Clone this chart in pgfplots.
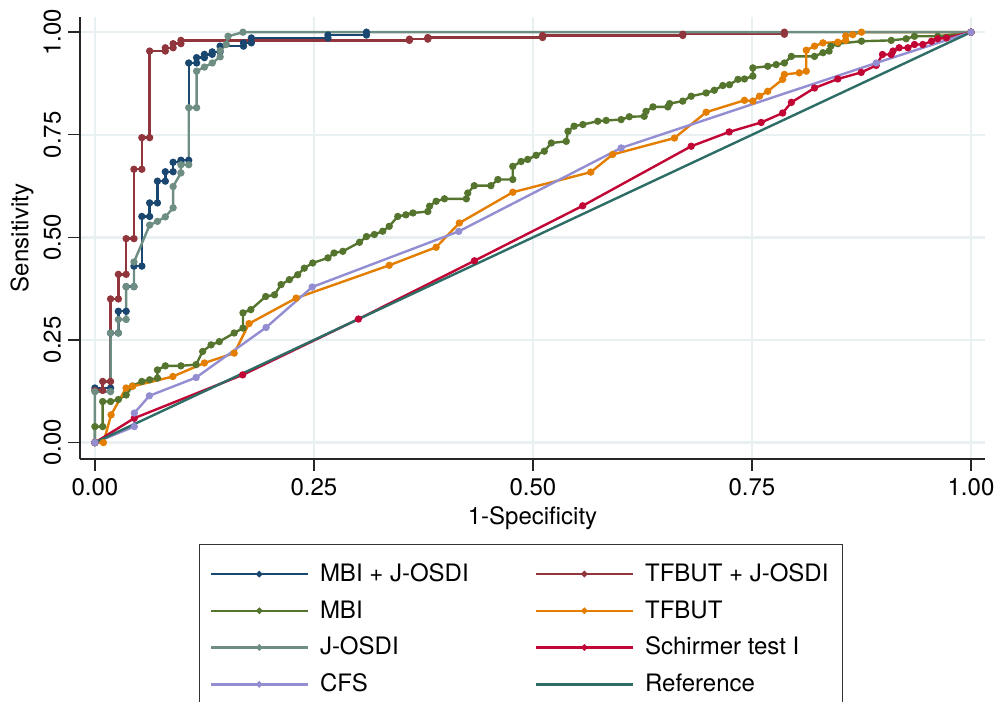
\documentclass[border=0pt]{standalone}
\usepackage{fontspec}
\setmainfont{TeX Gyre Heros}
\usepackage{pgfplots}
\pgfplotsset{compat=1.18}

\definecolor{cNavy}{RGB}{26,71,111}
\definecolor{cMaroon}{RGB}{144,53,59}
\definecolor{cGreen}{RGB}{85,117,47}
\definecolor{cOrange}{RGB}{227,126,0}
\definecolor{cTeal}{RGB}{110,142,132}
\definecolor{cCran}{RGB}{193,5,52}
\definecolor{cLav}{RGB}{147,141,210}
\definecolor{cRef}{RGB}{45,109,102}
\definecolor{gridc}{RGB}{232,240,242}

\begin{document}
\begin{tikzpicture}
\begin{axis}[
  scale only axis, width=452.5pt, height=221pt,
  xmin=-0.017, xmax=1.016, ymin=-0.04, ymax=1.037,
  axis x line*=bottom, axis y line*=left,
  axis line style={black!85, line width=0.7pt},
  xtick={0,0.25,0.5,0.75,1}, ytick={0,0.25,0.5,0.75,1},
  tick align=outside, major tick length=6pt,
  tick style={black!85, line width=0.7pt},
  grid=major, major grid style={gridc, line width=1.2pt},
  /pgf/number format/fixed, /pgf/number format/fixed zerofill,
  /pgf/number format/precision=2,
  /pgf/number format/assume math mode=true,
  font=\fontsize{12}{14}\selectfont,
  yticklabel style={rotate=90, anchor=south},
  xlabel={1-Specificity}, ylabel={Sensitivity},
  x label style={at={(axis description cs:0.5,-0.1335)}, anchor=center},
  y label style={at={(axis description cs:-0.064,0.5)}, anchor=center},
  legend columns=2, legend cell align=left,
  legend style={at={(0.1315,-0.1923)}, anchor=north west, draw=black!80,
    line width=0.6pt, font=\fontsize{12}{14}\selectfont,
    inner xsep=5pt, inner ysep=7.5pt, row sep=4pt,
    /tikz/every even column/.append style={column sep=31pt},
    /tikz/every odd column/.append style={column sep=3.5pt}},
  legend image code/.code={\draw[mark repeat=2,mark phase=2,#1,mark size=0.9pt]
    plot coordinates {(0pt,0pt) (24.25pt,0pt) (48.5pt,0pt)};},
  every axis plot/.append style={line width=1.2pt, mark size=1.2pt},
]
% MBI + J-OSDI
\addplot[cNavy, mark=*] coordinates {(0,0) (0,0.133) (0.0179,0.133) (0.0179,0.267) (0.0268,0.267) (0.0268,0.32) (0.0357,0.32) (0.0357,0.38) (0.0446,0.38) (0.0446,0.43) (0.0536,0.43) (0.0536,0.551) (0.0625,0.551) (0.0625,0.584) (0.0714,0.584) (0.0714,0.637) (0.0804,0.637) (0.0804,0.66) (0.0893,0.66) (0.0893,0.683) (0.0982,0.683) (0.0982,0.688) (0.1071,0.688) (0.1071,0.925) (0.1161,0.925) (0.1161,0.938) (0.125,0.938) (0.125,0.946) (0.1339,0.946) (0.1339,0.952) (0.1429,0.952) (0.1429,0.966) (0.1696,0.966) (0.1696,0.974) (0.1786,0.974) (0.1786,0.986) (0.266,0.986) (0.266,0.993) (0.31,0.993) (0.31,1) (1,1)};
\addlegendentry{MBI + J-OSDI}
% TFBUT + J-OSDI
\addplot[cMaroon, mark=*] coordinates {(0,0) (0,0.127) (0.0089,0.127) (0.0089,0.149) (0.0179,0.149) (0.0179,0.35) (0.0268,0.35) (0.0268,0.41) (0.0357,0.41) (0.0357,0.497) (0.0446,0.497) (0.0446,0.666) (0.0536,0.666) (0.0536,0.743) (0.0625,0.743) (0.0625,0.954) (0.0804,0.954) (0.0804,0.962) (0.0893,0.962) (0.0893,0.972) (0.0982,0.972) (0.0982,0.98) (0.359,0.98) (0.359,0.983) (0.38,0.983) (0.38,0.987) (0.511,0.987) (0.511,0.992) (0.671,0.992) (0.671,0.995) (0.787,0.995) (0.787,1) (1,1)};
\addlegendentry{TFBUT + J-OSDI}
% MBI
\addplot[cGreen, mark=*] coordinates {(0,0) (0,0.039) (0.0089,0.039) (0.0089,0.10) (0.0179,0.10) (0.0268,0.105) (0.0357,0.116) (0.043,0.138) (0.0536,0.149) (0.0625,0.153) (0.0714,0.157) (0.0714,0.177) (0.0804,0.187) (0.0982,0.187) (0.1155,0.19) (0.123,0.222) (0.1326,0.238) (0.142,0.246) (0.159,0.267) (0.169,0.279) (0.169,0.316) (0.178,0.324) (0.195,0.356) (0.205,0.36) (0.2125,0.385) (0.222,0.397) (0.2315,0.409) (0.239,0.425) (0.2486,0.4376) (0.266,0.45) (0.273,0.462) (0.283,0.466) (0.302,0.488) (0.31,0.502) (0.319,0.507) (0.3285,0.515) (0.336,0.527) (0.3457,0.551) (0.355,0.555) (0.363,0.5595) (0.38,0.563) (0.382,0.576) (0.3895,0.588) (0.399,0.594) (0.424,0.594) (0.4256,0.608) (0.433,0.626) (0.452,0.626) (0.46,0.641) (0.477,0.641) (0.477,0.673) (0.4865,0.685) (0.494,0.69) (0.5036,0.70) (0.513,0.71) (0.521,0.73) (0.538,0.734) (0.54,0.7585) (0.547,0.771) (0.557,0.775) (0.574,0.783) (0.5836,0.785) (0.6007,0.787) (0.61,0.794) (0.627,0.795) (0.629,0.807) (0.637,0.818) (0.654,0.818) (0.656,0.826) (0.671,0.832) (0.6806,0.844) (0.6977,0.852) (0.707,0.8585) (0.7167,0.87) (0.7243,0.872) (0.734,0.885) (0.7414,0.886) (0.751,0.893) (0.751,0.913) (0.768,0.917) (0.7776,0.921) (0.787,0.925) (0.795,0.941) (0.8214,0.941) (0.831,0.95) (0.838,0.954) (0.84,0.966) (0.848,0.972) (0.875,0.978) (0.909,0.98) (0.926,0.984) (0.9355,0.99) (0.962,0.99) (1,1)};
\addlegendentry{MBI}
% TFBUT
\addplot[cOrange, mark=*] coordinates {(0,0) (0.0097,0) (0.0185,0.0676) (0.0356,0.133) (0.043,0.137) (0.089,0.161) (0.125,0.194) (0.159,0.218) (0.176,0.29) (0.2297,0.352) (0.336,0.432) (0.3895,0.476) (0.416,0.535) (0.477,0.61) (0.566,0.659) (0.591,0.702) (0.6615,0.742) (0.6977,0.805) (0.7414,0.834) (0.751,0.832) (0.7586,0.844) (0.768,0.856) (0.785,0.885) (0.787,0.897) (0.804,0.901) (0.812,0.905) (0.812,0.956) (0.8214,0.966) (0.831,0.974) (0.848,0.9756) (0.857,0.98) (0.857,0.991) (0.865,0.994) (0.875,1) (1,1)};
\addlegendentry{TFBUT}
% J-OSDI
\addplot[cTeal, mark=*] coordinates {(0,0) (0,0.124) (0.0179,0.124) (0.0179,0.267) (0.0268,0.267) (0.0268,0.30) (0.0357,0.30) (0.0357,0.38) (0.0446,0.38) (0.0446,0.44) (0.0625,0.53) (0.0714,0.539) (0.0804,0.55) (0.0893,0.572) (0.0893,0.624) (0.0982,0.657) (0.0982,0.677) (0.1071,0.677) (0.1071,0.816) (0.1161,0.816) (0.1161,0.905) (0.125,0.915) (0.134,0.925) (0.143,0.94) (0.143,0.955) (0.15,0.97) (0.152,0.99) (0.169,1) (1,1)};
\addlegendentry{J-OSDI}
% Schirmer test I
\addplot[cCran, mark=*] coordinates {(0,0) (0.045,0.0595) (0.1687,0.165) (0.3008,0.301) (0.4332,0.443) (0.5568,0.577) (0.6806,0.722) (0.724,0.757) (0.7605,0.78) (0.785,0.803) (0.795,0.829) (0.8214,0.864) (0.848,0.886) (0.8747,0.902) (0.8918,0.919) (0.899,0.9456) (0.909,0.9456) (0.911,0.954) (0.918,0.962) (0.928,0.962) (0.9355,0.97) (0.945,0.97) (0.955,0.978) (0.962,0.984) (0.972,0.986) (1,1)};
\addlegendentry{Schirmer test I}
% CFS
\addplot[cLav, mark=*] coordinates {(0,0) (0.045,0.039) (0.045,0.072) (0.0622,0.114) (0.1155,0.1585) (0.1954,0.2805) (0.248,0.379) (0.4153,0.5146) (0.6007,0.718) (0.8918,0.925) (1,1)};
\addlegendentry{CFS}
% Reference
\addplot[cRef, no marks] coordinates {(0,0) (1,1)};
\addlegendentry{Reference}
\end{axis}
\pgfresetboundingbox
\path[use as bounding box] (-40pt,-121pt) rectangle (457pt,229.5pt);
\end{tikzpicture}
\end{document}
